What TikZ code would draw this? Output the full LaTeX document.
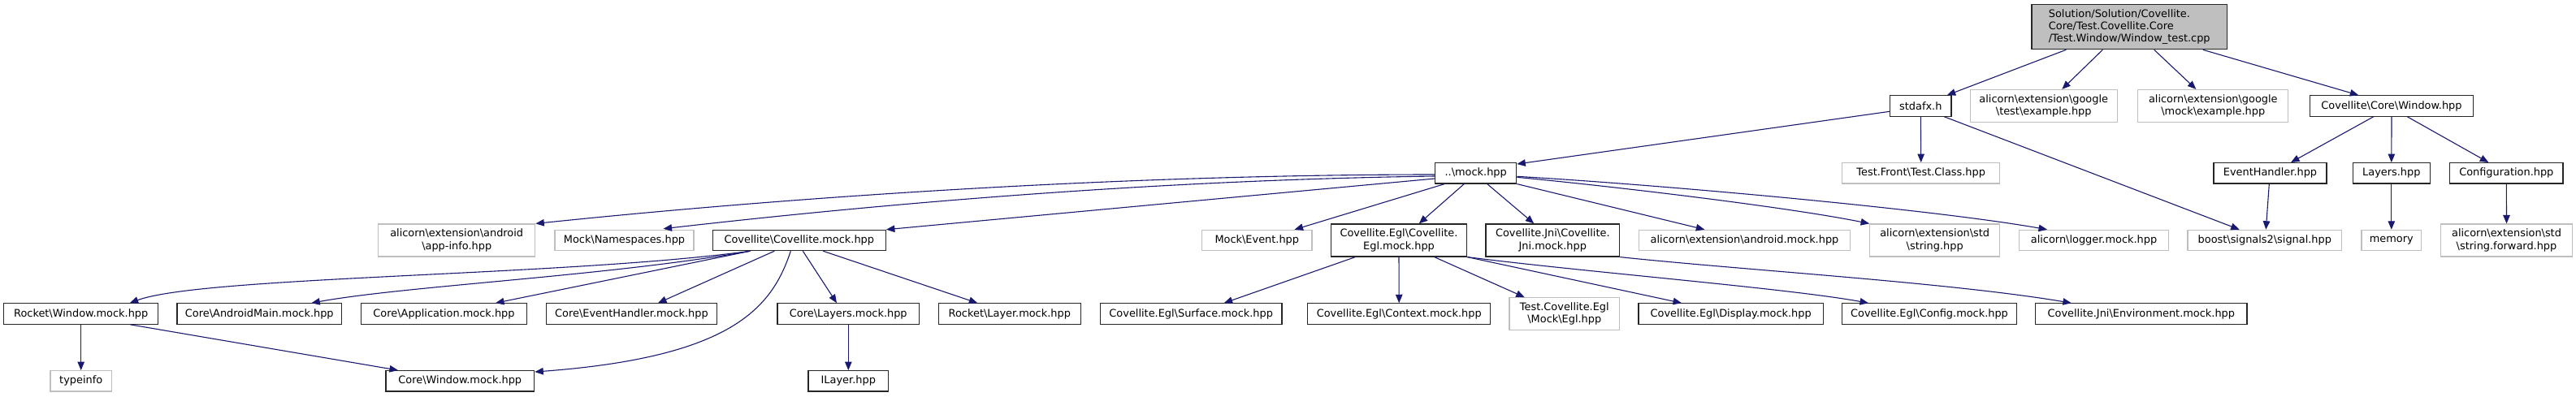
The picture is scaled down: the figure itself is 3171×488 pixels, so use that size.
\documentclass[tikz,border=0pt]{standalone}
\usepackage{fontspec}
\setmainfont{DejaVu Sans}
\usetikzlibrary{arrows.meta,calc}
\definecolor{mblue}{RGB}{25,25,112}
\definecolor{extgray}{RGB}{191,191,191}
\newcommand\bks{\textbackslash}
\tikzset{
  base/.style={rectangle, inner sep=0pt, fill=white, font=\fontsize{12.9}{15.3}\selectfont, align=center, line width=1.2pt},
  doc/.style={base, draw=black!85},
  ext/.style={base, draw=extgray},
  rootbox/.style={base, draw=black!85, fill=extgray, align=left, font=\fontsize{12.9}{14.7}\selectfont},
  one/.style={minimum height=25.3pt},
  two/.style={minimum height=40pt},
  edge/.style={draw=mblue, line width=1.1pt, -{Triangle[length=10.5pt,width=8.5pt]}}
}
\begin{document}
\begin{tikzpicture}[x=1pt,y=-1pt]
\fill[white] (0,0) rectangle (3171,488);
\useasboundingbox (0,0) rectangle (3171,488);
% rank 0
\node[rootbox, minimum width=240.3pt, minimum height=55pt] (root) at (2621.2,33.2) {Solution/Solution/Covellite.\\Core/Test.Covellite.Core\\/Test.Window/Window\_test.cpp};
% rank 1
\node[doc, one, minimum width=75.3pt] (stdafx) at (2364.3,130.5) {stdafx.h};
\node[ext, two, minimum width=181pt] (gtest) at (2515.7,130.5) {alicorn\bks extension\bks google\\\bks test\bks example.hpp};
\node[ext, two, minimum width=185pt] (gmock) at (2724.3,130.5) {alicorn\bks extension\bks google\\\bks mock\bks example.hpp};
\node[doc, one, minimum width=200.7pt] (winhpp) at (2944,130.5) {Covellite\bks Core\bks Window.hpp};
% rank 2
\node[doc, one, minimum width=100pt] (mock) at (1816.7,213.3) {..\bks mock.hpp};
\node[ext, one, minimum width=194pt] (testfront) at (2364.7,213.3) {Test.Front\bks Test.Class.hpp};
\node[doc, one, minimum width=139pt] (evh) at (2794.5,213.3) {EventHandler.hpp};
\node[doc, one, minimum width=95pt] (layers) at (2943.8,213.3) {Layers.hpp};
\node[doc, one, minimum width=139.3pt] (config) at (3085.3,213.3) {Configuration.hpp};
% rank 3
\node[ext, two, minimum width=193pt] (appinfo) at (562.2,296) {alicorn\bks extension\bks android\\\bks app-info.hpp};
\node[ext, one, minimum width=171pt] (namespaces) at (768.5,296) {Mock\bks Namespaces.hpp};
\node[doc, one, minimum width=213pt] (covmock) at (983.8,296) {Covellite\bks Covellite.mock.hpp};
\node[ext, one, minimum width=135.3pt] (event) at (1547.3,296) {Mock\bks Event.hpp};
\node[doc, two, minimum width=167.3pt] (eglmock) at (1722,296) {Covellite.Egl\bks Covellite.\\Egl.mock.hpp};
\node[doc, two, minimum width=164.7pt] (jnimock) at (1911.3,296) {Covellite.Jni\bks Covellite.\\Jni.mock.hpp};
\node[ext, one, minimum width=259.7pt] (androidmock) at (2147.5,296) {alicorn\bks extension\bks android.mock.hpp};
\node[ext, two, minimum width=160pt] (stdstring) at (2381.7,296) {alicorn\bks extension\bks std\\\bks string.hpp};
\node[ext, one, minimum width=183.6pt] (logger) at (2577.5,296) {alicorn\bks logger.mock.hpp};
\node[ext, one, minimum width=189.7pt] (boost) at (2787.8,296) {boost\bks signals2\bks signal.hpp};
\node[ext, one, minimum width=73.7pt] (memory) at (2943.8,296) {memory};
\node[ext, two, minimum width=161.7pt] (strfwd) at (3085.5,296) {alicorn\bks extension\bks std\\\bks string.forward.hpp};
% rank 4
\node[doc, one, minimum width=190pt] (rocketwin) at (99.7,386.5) {Rocket\bks Window.mock.hpp};
\node[doc, one, minimum width=202.7pt] (androidmain) at (319.3,386.5) {Core\bks AndroidMain.mock.hpp};
\node[doc, one, minimum width=203.6pt] (application) at (546.5,386.5) {Core\bks Application.mock.hpp};
\node[doc, one, minimum width=210.3pt] (evhmock) at (777.5,386.5) {Core\bks EventHandler.mock.hpp};
\node[doc, one, minimum width=174.7pt] (layersmock) at (1044.3,386.5) {Core\bks Layers.mock.hpp};
\node[doc, one, minimum width=175pt] (rocketlayer) at (1242.8,386.5) {Rocket\bks Layer.mock.hpp};
\node[doc, one, minimum width=223.7pt] (surface) at (1466.2,386.5) {Covellite.Egl\bks Surface.mock.hpp};
\node[doc, one, minimum width=225pt] (context) at (1722.2,386.5) {Covellite.Egl\bks Context.mock.hpp};
\node[ext, two, minimum width=135.7pt] (testegl) at (1925.8,386.7) {Test.Covellite.Egl\\\bks Mock\bks Egl.hpp};
\node[doc, one, minimum width=227.3pt] (display) at (2130.7,386.5) {Covellite.Egl\bks Display.mock.hpp};
\node[doc, one, minimum width=214.7pt] (configmock) at (2375,386.5) {Covellite.Egl\bks Config.mock.hpp};
\node[doc, one, minimum width=260.3pt] (environment) at (2635.8,386.5) {Covellite.Jni\bks Environment.mock.hpp};
% rank 5
\node[ext, one, minimum width=75.3pt] (typeinfo) at (99.7,469.3) {typeinfo};
\node[doc, one, minimum width=182.7pt] (corewin) at (566.3,469.3) {Core\bks Window.mock.hpp};
\node[doc, one, minimum width=98.7pt] (ilayer) at (1044.3,469.3) {ILayer.hpp};
% edges from root
\draw[edge] ($(root.south)+(-77.9,0)$) -- ($(stdafx.north)+(32.4,0)$);
\draw[edge] ($(root.south)+(-32.9,0)$) -- ($(gtest.north)+(22.6,0)$);
\draw[edge] ($(root.south)+(30.5,0)$) -- ($(gmock.north)+(-21,0)$);
\draw[edge] ($(root.south)+(90.5,0)$) -- ($(winhpp.north)+(-40.7,0)$);
% stdafx and window
\draw[edge] ($(stdafx.west)+(0,6.8)$) -- ($(mock.north east)+(0,2)$);
\draw[edge] (stdafx.south) -- (testfront.north);
\draw[edge] ($(stdafx.south)+(29,0)$) -- ($(boost.north)+(-31.1,0)$);
\draw[edge] ($(winhpp.south)+(-22.3,0)$) -- ($(evh.north)+(25.5,0)$);
\draw[edge] (winhpp.south) -- (layers.north);
\draw[edge] ($(winhpp.south)+(19.3,0)$) -- ($(config.north)+(-22,0)$);
\draw[edge] ($(evh.south)+(-1.2,0)$) -- ($(boost.north)+(1.5,0)$);
\draw[edge] (layers.south) -- (memory.north);
\draw[edge] (config.south) -- (strfwd.north);
% mock.hpp
\draw[edge] ($(mock.west)+(0,1.7)$) .. controls (1400,215) and (1000,240) .. (appinfo.north east);
\draw[edge] ($(mock.west)+(0,3.7)$) .. controls (1400,222) and (1050,255) .. ($(namespaces.north)+(48,-1)$);
\draw[edge] ($(mock.west)+(0,6.7)$) -- (covmock.north east);
\draw[edge] ($(mock.south)+(-38.4,0)$) -- ($(event.north east)+(-22,0)$);
\draw[edge] ($(mock.south)+(-14.4,0)$) -- ($(eglmock.north)+(24.7,0)$);
\draw[edge] ($(mock.south)+(14,0)$) -- ($(jnimock.north)+(-23,0)$);
\draw[edge] (mock.south east) -- ($(androidmock.north)+(-49.2,0)$);
\draw[edge] ($(mock.east)+(0,5)$) .. controls (1990,230) and (2200,255) .. (stdstring.north west);
\draw[edge] ($(mock.east)+(0,4)$) .. controls (2050,228) and (2380,258) .. ($(logger.north)+(-57.5,0)$);
% Covellite.mock
\draw[edge] ($(covmock.south)+(-60.5,0)$) .. controls (700,340) and (250,340) .. ($(rocketwin.north)+(60,0)$);
\draw[edge] ($(covmock.south)+(-60.5,0)$) .. controls (750,340) and (500,352) .. ($(androidmain.north)+(64,0)$);
\draw[edge] ($(covmock.south)+(-60.5,0)$) -- ($(application.north)+(63.5,0)$);
\draw[edge] ($(covmock.south)+(-30.5,0)$) -- ($(evhmock.north)+(32.5,0)$);
\draw[edge] ($(covmock.south)+(-10.5,0)$) .. controls (950,380) and (900,440) .. ($(corewin.north east)+(0,2)$);
\draw[edge] ($(covmock.south)+(4.5,0)$) -- ($(layersmock.north)+(-14.3,0)$);
\draw[edge] ($(covmock.south)+(29.5,0)$) -- ($(rocketlayer.north)+(-39.5,0)$);
\draw[edge] (rocketwin.south) -- (typeinfo.north);
\draw[edge] ($(rocketwin.south)+(60.3,0)$) -- ($(corewin.north)+(-76.3,0)$);
\draw[edge] (layersmock.south) -- (ilayer.north);
% Egl / Jni
\draw[edge] ($(eglmock.south)+(-53.7,0)$) -- ($(surface.north)+(40.5,0)$);
\draw[edge] (eglmock.south) -- (context.north);
\draw[edge] ($(eglmock.south)+(43.7,0)$) -- ($(testegl.north)+(-49.1,0)$);
\draw[edge] (eglmock.south east) -- ($(display.north)+(-60.7,0)$);
\draw[edge] (eglmock.south east) .. controls (1950,335) and (2200,355) .. ($(configmock.north)+(-75,0)$);
\draw[edge] (jnimock.south east) .. controls (2150,333) and (2400,348) .. ($(environment.north)+(-86,0)$);
\end{tikzpicture}
\end{document}
